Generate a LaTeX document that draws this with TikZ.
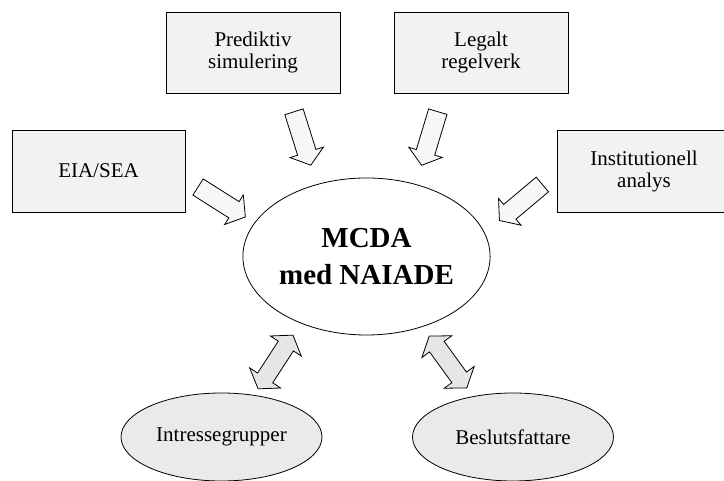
\documentclass[tikz,border=0pt]{standalone}
\usepackage{fontspec}
\setmainfont{Liberation Serif}
\definecolor{boxgray}{HTML}{F2F2F2}
\definecolor{ovalgray}{HTML}{EAEAEA}
\definecolor{infill}{HTML}{F7F7F7}
\definecolor{twofill}{HTML}{E6E6E6}
\usetikzlibrary{shapes.geometric}
\tikzset{
  source/.style={draw, line width=0.8pt, fill=boxgray, minimum width=174pt,
    minimum height=81pt, align=center, font=\fontsize{21}{22}\selectfont},
  actor/.style={draw, line width=0.8pt, ellipse, fill=ovalgray, minimum width=201pt,
    minimum height=88pt, inner sep=0pt, font=\fontsize{21}{22}\selectfont},
  inarrow/.pic={\draw[line width=0.8pt, fill=infill]
    (-28,-9.6) -- (14.5,-9.6) -- (14.5,-17.5) -- (28,0) -- (14.5,17.5)
    -- (14.5,9.6) -- (-28,9.6) -- cycle;},
  twoarrow/.pic={\draw[line width=0.8pt, fill=twofill]
    (-32,0) -- (-19,18.5) -- (-19,9) -- (19,9) -- (19,18.5) -- (32,0)
    -- (19,-18.5) -- (19,-9) -- (-19,-9) -- (-19,-18.5) -- cycle;}
}
\begin{document}
\begin{tikzpicture}[x=1pt, y=1pt]
  \useasboundingbox (0,0) rectangle (724,481);

  \node [source] (pred) at (253,428.5) {Prediktiv\\simulering};
  \node [source] (legal) at (481,428.5) {Legalt\\regelverk};
  \node [source, minimum width=173pt, minimum height=82pt] (eia) at (98.5,310) {EIA/SEA};
  \node [source, minimum height=82pt] (inst) at (644,310) {Institutionell\\analys};

  \node [draw, line width=0.8pt, ellipse, minimum width=229pt, minimum height=157pt,
    inner sep=0pt, align=center, font=\fontsize{29}{37}\selectfont\bfseries]
    (mcda) at (366.5,224.5) {MCDA\\med NAIADE};

  \node [actor] (intr) at (221.5,44) {Intressegrupper};
  \node [actor] (besl) at (513,44) {Beslutsfattare};

  \pic [rotate=-72.5] at (302.4,342.5) {inarrow};
  \pic [rotate=-106.8] at (429.7,342.5) {inarrow};
  \pic [rotate=-32.3] at (221.7,279) {inarrow};
  \pic [rotate=-140] at (520.9,278.5) {inarrow};

  \pic [rotate=57] at (275.5,119) {twoarrow};
  \pic [rotate=126] at (448,119) {twoarrow};
\end{tikzpicture}
\end{document}
